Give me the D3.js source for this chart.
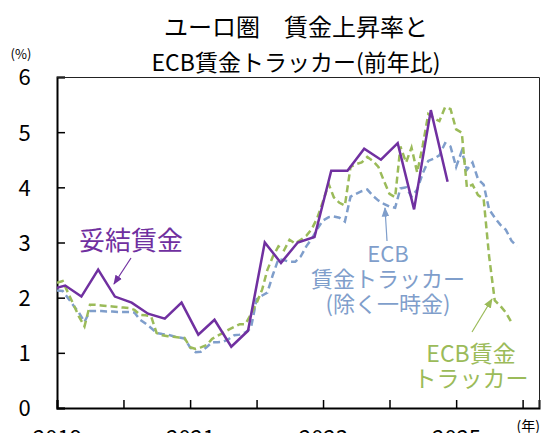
<!DOCTYPE html>
<html>
<head>
<meta charset="utf-8">
<script src="https://cdn.jsdelivr.net/npm/d3@7"></script>
<style>
  body { margin: 0; background: #fff; }
  text { font-family: "Noto Sans CJK JP", "Noto Sans", sans-serif; }
</style>
</head>
<body>
<div class="chart"></div>
<script>

// quarterly negotiated wages (妥結賃金), 2018Q4 .. 2024Q4
const quarters = ["2018Q4",
    "2019Q1", "2019Q2", "2019Q3", "2019Q4",
    "2020Q1", "2020Q2", "2020Q3", "2020Q4",
    "2021Q1", "2021Q2", "2021Q3", "2021Q4",
    "2022Q1", "2022Q2", "2022Q3", "2022Q4",
    "2023Q1", "2023Q2", "2023Q3", "2023Q4",
    "2024Q1", "2024Q2", "2024Q3", "2024Q4"];
const negotiated = [2.14,
    2.22, 2.02, 2.51, 2.02,
    1.91, 1.71, 1.62, 1.91,
    1.33, 1.60, 1.11, 1.40,
    3.00, 2.63, 3.00, 3.10,
    4.30, 4.30, 4.70, 4.50,
    4.80, 3.60, 5.40, 4.10];

// monthly ECB wage tracker, from 2019-01
const trackerStart = "2019-01";
const tracker = [
    2.27, 2.30, 2.10, 1.88, 1.66, 1.48, 1.87, 1.87, 1.86, 1.85, 1.84, 1.83,
    1.82, 1.81, 1.78, 1.69, 1.68, 1.66, 1.36, 1.32, 1.30, 1.29, 1.28, 1.27,
    1.10, 1.07, 1.10, 1.14, 1.25, 1.31, 1.36, 1.42, 1.47, 1.52, 1.52, 1.70,
    1.90, 2.15, 2.50, 2.75, 2.93, 2.86, 3.05, 2.98, 3.05, 3.12, 3.25, 3.45,
    3.75, 4.06, 3.82, 3.72, 3.67, 4.37, 4.42, 4.45, 4.55, 4.48, 4.37, 4.12,
    3.88, 3.82, 4.74, 4.45, 4.72, 4.27, 4.75, 5.33, 5.25, 5.20, 5.45, 5.42,
    5.05, 4.99, 4.00, 4.05, 3.86, 3.79, 2.75, 1.95, 1.85, 1.73, 1.55];

// monthly ECB wage tracker excluding one-off payments, from 2019-01
const trackerExOneOff = [
    2.13, 2.12, 2.00, 1.86, 1.73, 1.56, 1.76, 1.76, 1.76, 1.75, 1.75, 1.74,
    1.74, 1.74, 1.73, 1.60, 1.53, 1.45, 1.36, 1.34, 1.33, 1.30, 1.28, 1.26,
    1.10, 1.01, 1.02, 1.10, 1.19, 1.19, 1.20, 1.25, 1.32, 1.33, 1.37, 1.45,
    1.97, 2.04, 2.09, 2.42, 2.70, 2.68, 2.65, 2.65, 2.75, 2.93, 3.07, 3.25,
    3.40, 3.46, 3.47, 3.45, 3.38, 3.83, 3.88, 3.93, 3.96, 3.85, 3.76, 3.70,
    3.65, 3.63, 3.98, 4.00, 3.83, 3.96, 4.25, 4.48, 4.52, 4.58, 4.80, 4.74,
    4.37, 4.66, 4.32, 4.45, 4.15, 4.05, 3.60, 3.45, 3.32, 3.23, 3.03, 2.93];

const yearTicks = [2019, 2020, 2021, 2022, 2023, 2024, 2025, 2026];
const yearLabels = [2019, 2021, 2023, 2025];
const yTicks = [0, 1, 2, 3, 4, 5, 6];

const purple = "#7030a0", blue = "#7f9ecb", green = "#9bbb59";


// quarter "2019Q1" -> middle of the quarter
function quarterDate(q) {
    const y = +q.slice(0, 4), n = +q.slice(5);
    return new Date(y, (n - 1) * 3 + 1, 15);
}

function monthSeries(start, values) {
    const [y, m] = start.split("-").map(Number);
    return values.map((v, i) => ({ date: new Date(y, m - 1 + i, 1), value: v }));
}


function WageChart(container) {

    const width = 542, height = 433;
    const margin = { top: 77, right: 2, bottom: 25, left: 57 };
    const w = width - margin.left - margin.right;
    const h = 408 - margin.top;

    const svg = d3.select(container)
        .append("svg")
        .attr("width", width)
        .attr("height", height);

    const g = svg.append("g")
        .attr("transform", `translate(${margin.left}, ${margin.top})`);

    const xScale = d3.scaleTime()
        .domain([new Date(2019, 0, 1), new Date(2026, 3, 1)])
        .range([0, w - 1]);
    const yScale = d3.scaleLinear().domain([0, 6]).range([h, 0]);

    g.append("clipPath").attr("id", "plot-clip")
        .append("rect").attr("width", w).attr("height", h);

    // title
    const title = svg.append("text")
        .attr("text-anchor", "middle")
        .attr("fill", "#000");
    title.append("tspan").attr("x", 296).attr("y", 36)
        .attr("font-size", 24).text("ユーロ圏　賃金上昇率と");
    title.append("tspan").attr("x", 296).attr("y", 71)
        .attr("font-size", 23).text("ECB賃金トラッカー(前年比)");

    svg.append("text")
        .attr("x", 21).attr("y", 59)
        .attr("text-anchor", "middle")
        .attr("font-size", 13)
        .text("(%)");

    svg.append("text")
        .attr("x", 540).attr("y", 431)
        .attr("text-anchor", "end")
        .attr("font-size", 14)
        .text("(年)");

    // y axis
    const yAxis = d3.axisLeft(yScale)
        .tickValues(yTicks)
        .tickFormat(d3.format("d"))
        .tickSize(-8)
        .tickPadding(28);
    g.append("g").attr("class", "y-axis").call(yAxis)
        .call(s => s.selectAll("text")
            .attr("font-size", 22)
            .attr("text-anchor", "middle")
            .attr("dx", "-0.2em")
            .attr("dy", "0.36em"))
        .call(s => s.select(".domain").attr("stroke-width", 2));

    // x axis
    const xAxis = d3.axisBottom(xScale)
        .tickValues(yearTicks.map(y => new Date(y, 0, 1)))
        .tickSize(-8)
        .tickPadding(14)
        .tickFormat(d => yearLabels.includes(d.getFullYear()) ? d.getFullYear() : "");
    g.append("g").attr("class", "x-axis")
        .attr("transform", `translate(0, ${h})`)
        .call(xAxis)
        .call(s => s.selectAll("text").attr("font-size", 22).attr("dy", "1.1em"))
        .call(s => s.select(".domain").attr("stroke-width", 2));

    g.selectAll(".tick line").attr("stroke-width", 1.5);
    g.selectAll(".domain").attr("stroke", "#000");

    // top and right frame
    g.append("path")
        .attr("d", `M0,0.5H${w - 0.5}V${h}`)
        .attr("fill", "none")
        .attr("stroke", "#222")
        .attr("stroke-width", 1);

    const line = d3.line()
        .x(d => xScale(d.date))
        .y(d => yScale(d.value));

    const lines = g.append("g").attr("clip-path", "url(#plot-clip)");

    lines.append("path")
        .datum(monthSeries(trackerStart, trackerExOneOff))
        .attr("d", line)
        .attr("fill", "none")
        .attr("stroke", blue)
        .attr("stroke-width", 2.5)
        .attr("stroke-dasharray", "7,4");

    lines.append("path")
        .datum(monthSeries(trackerStart, tracker))
        .attr("d", line)
        .attr("fill", "none")
        .attr("stroke", green)
        .attr("stroke-width", 2.5)
        .attr("stroke-dasharray", "7,4");

    lines.append("path")
        .datum(quarters.map((q, i) => ({ date: quarterDate(q), value: negotiated[i] })))
        .attr("d", line)
        .attr("fill", "none")
        .attr("stroke", purple)
        .attr("stroke-width", 2.5)
        .attr("stroke-linejoin", "miter");

    // annotations
    const defs = svg.append("defs");
    [["arrow-purple", purple], ["arrow-blue", blue], ["arrow-green", green]].forEach(([id, c]) => {
        defs.append("marker")
            .attr("id", id)
            .attr("viewBox", "0 0 10 10")
            .attr("refX", 9).attr("refY", 5)
            .attr("markerWidth", 8).attr("markerHeight", 8)
            .attr("orient", "auto")
            .append("path")
            .attr("d", "M0,1L10,5L0,9z")
            .attr("fill", c);
    });

    function label(x, y, lines, color, size, lh) {
        lines.forEach((s, i) => svg.append("text")
            .attr("x", x).attr("y", y + i * lh)
            .attr("text-anchor", "middle")
            .attr("fill", color)
            .attr("font-size", size)
            .text(s));
    }

    function arrow(x1, y1, x2, y2, color, id) {
        svg.append("line")
            .attr("x1", x1).attr("y1", y1).attr("x2", x2).attr("y2", y2)
            .attr("stroke", color)
            .attr("stroke-width", 1.2)
            .attr("marker-end", `url(#${id})`);
    }

    label(131, 250, ["妥結賃金"], purple, 26, 0);
    arrow(131, 258, 114, 284, purple, "arrow-purple");

    label(388, 262, ["ECB", "賃金トラッカー", "(除く一時金)"], blue, 22, 25);
    arrow(387, 241, 385, 208, blue, "arrow-blue");

    label(471, 362, ["ECB賃金", "トラッカー"], green, 23, 25);
    arrow(472, 332, 492, 299, green, "arrow-green");

    return {};
}

WageChart(".chart");
</script>
</body>
</html>
